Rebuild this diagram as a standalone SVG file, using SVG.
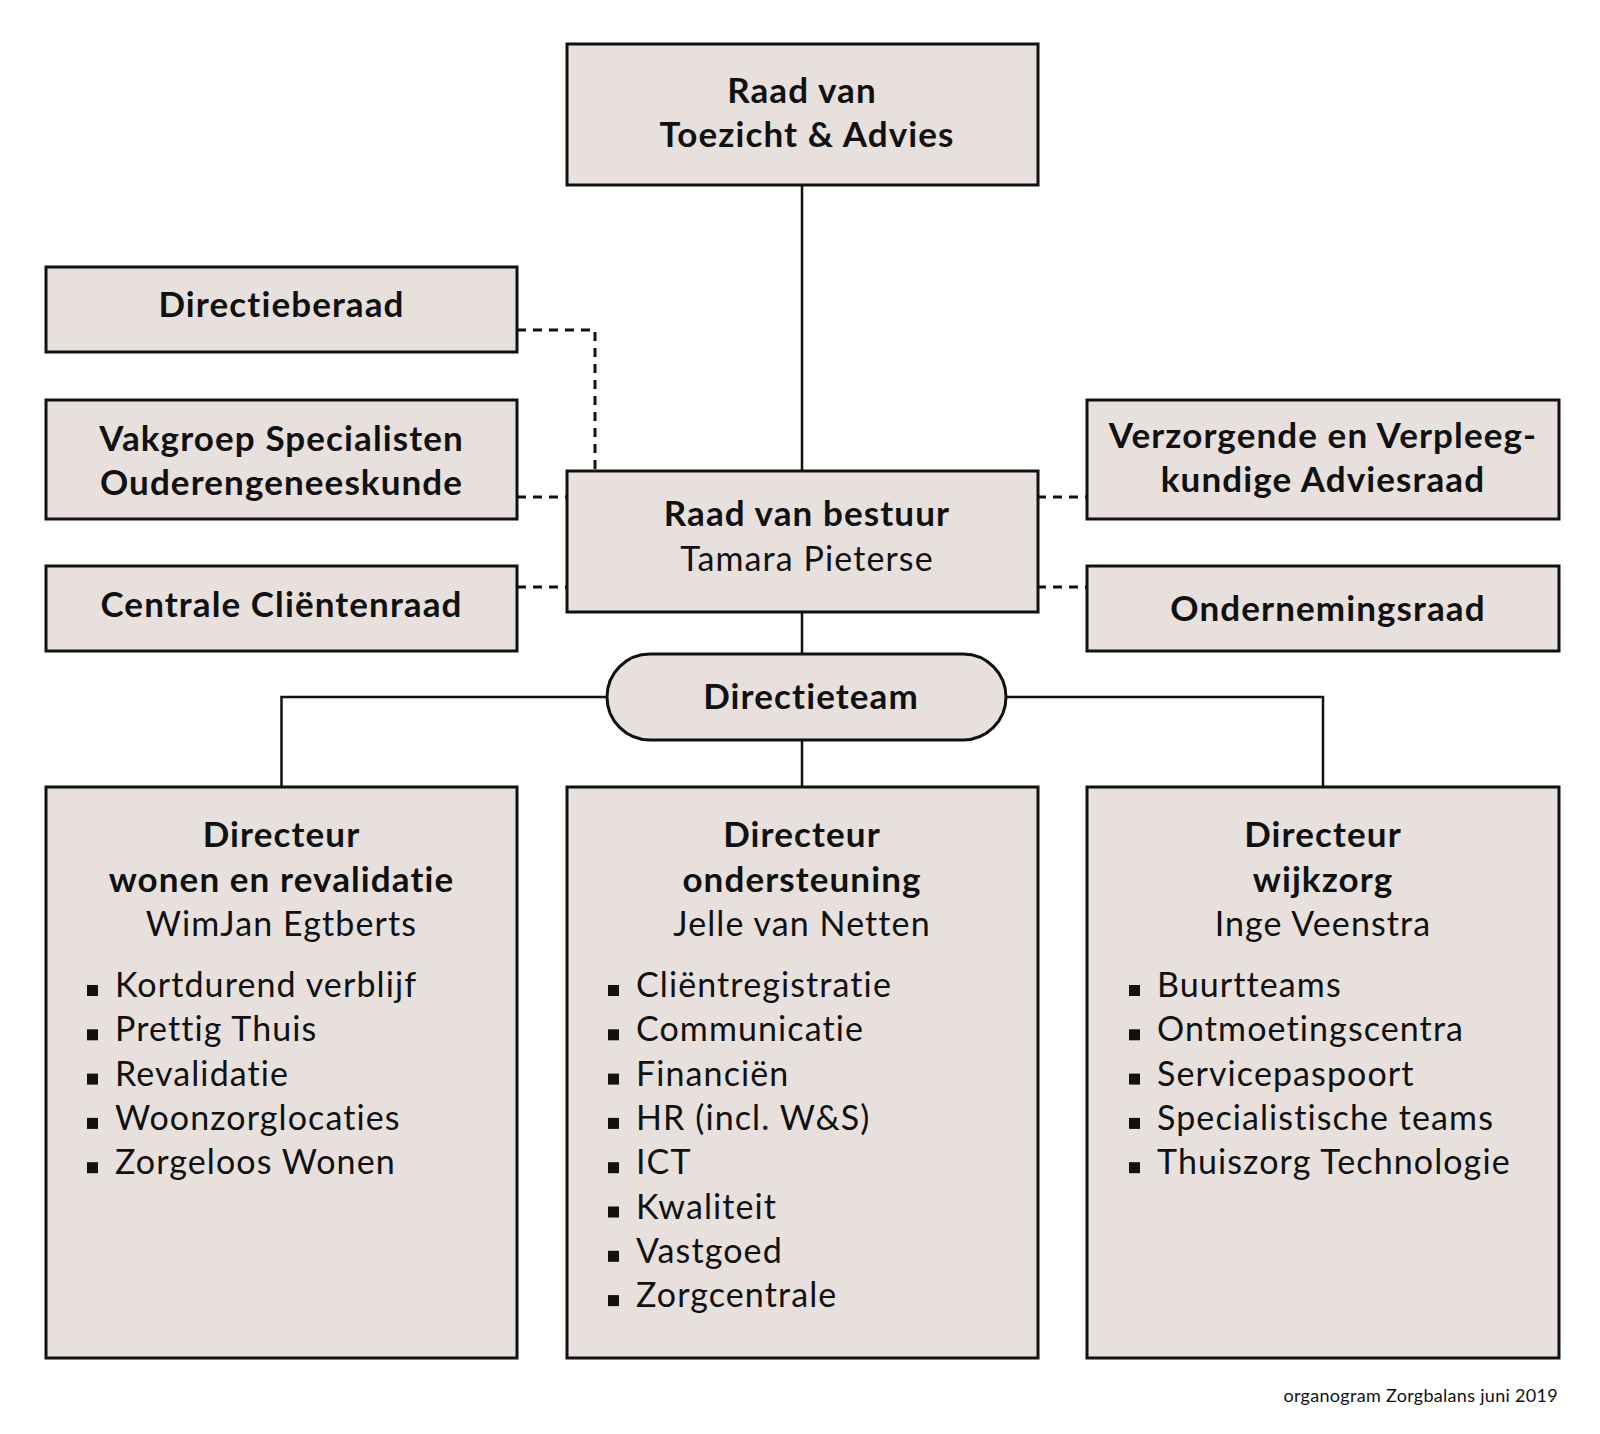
<svg xmlns="http://www.w3.org/2000/svg" width="1600" height="1434" viewBox="0 0 1600 1434">
<style>
.box{fill:#e7e0dd;stroke:#111;stroke-width:3}
.ln{fill:none;stroke:#111;stroke-width:2.5}
.dash{fill:none;stroke:#111;stroke-width:3;stroke-dasharray:9 7}
text{font-family:Lato,"Open Sans","Liberation Sans",sans-serif;fill:#111;font-size:34px;letter-spacing:1.1px}
.b{font-weight:bold;text-anchor:middle;font-size:35px}
.r{text-anchor:middle}
.foot{font-size:18px;text-anchor:end;letter-spacing:0.3px}
</style>
<defs>
<rect id="sq" width="11" height="11" fill="#111"/>
</defs>
<rect width="1600" height="1434" fill="#fff"/>
<g id="connectors">
<line class="ln" x1="802" y1="185" x2="802" y2="471"/>
<line class="ln" x1="802" y1="612" x2="802" y2="655"/>
<line class="ln" x1="802" y1="738" x2="802" y2="787"/>
<polyline class="ln" points="608,697 281.5,697 281.5,787"/>
<polyline class="ln" points="1006,697 1323,697 1323,787"/>
<polyline class="dash" points="517,330 595,330 595,471"/>
<line class="dash" x1="517" y1="497" x2="567" y2="497"/>
<line class="dash" x1="517" y1="587" x2="567" y2="587"/>
<line class="dash" x1="1037" y1="497" x2="1087" y2="497"/>
<line class="dash" x1="1037" y1="587" x2="1087" y2="587"/>
</g>
<g id="toezicht">
<rect class="box" x="567" y="44" width="471" height="141"/>
<text class="b" x="802" y="103">Raad van</text>
<text class="b" x="807" y="147">Toezicht &amp; Advies</text>
</g>
<g id="directieberaad">
<rect class="box" x="46" y="267" width="471" height="85"/>
<text class="b" x="281.5" y="317">Directieberaad</text>
</g>
<g id="vakgroep">
<rect class="box" x="46" y="400" width="471" height="119"/>
<text class="b" x="281.5" y="451">Vakgroep Specialisten</text>
<text class="b" x="281.5" y="495">Ouderengeneeskunde</text>
</g>
<g id="clientenraad">
<rect class="box" x="46" y="566" width="471" height="85"/>
<text class="b" x="281.5" y="617">Centrale Cliëntenraad</text>
</g>
<g id="rvb">
<rect class="box" x="567" y="471" width="471" height="141"/>
<text class="b" x="807" y="526">Raad van bestuur</text>
<text class="r" x="807" y="571">Tamara Pieterse</text>
</g>
<g id="vva">
<rect class="box" x="1087" y="400" width="472" height="119"/>
<text class="b" x="1323" y="448">Verzorgende en Verpleeg-</text>
<text class="b" x="1323" y="492">kundige Adviesraad</text>
</g>
<g id="or">
<rect class="box" x="1087" y="566" width="472" height="85"/>
<text class="b" x="1328" y="621">Ondernemingsraad</text>
</g>
<g id="directieteam">
<rect class="box" x="607" y="654" width="399" height="86" rx="43" ry="43"/>
<text class="b" x="811" y="709">Directieteam</text>
</g>
<g id="dir-wonen">
<rect class="box" x="46" y="787" width="471" height="571"/>
<text class="b" x="281.5" y="847">Directeur</text>
<text class="b" x="281.5" y="892">wonen en revalidatie</text>
<text class="r" x="281.5" y="936">WimJan Egtberts</text>
<use href="#sq" x="87" y="985"/><text x="115" y="997">Kortdurend verblijf</text>
<use href="#sq" x="87" y="1029.3"/><text x="115" y="1041.3">Prettig Thuis</text>
<use href="#sq" x="87" y="1073.6"/><text x="115" y="1085.6">Revalidatie</text>
<use href="#sq" x="87" y="1117.9"/><text x="115" y="1129.9">Woonzorglocaties</text>
<use href="#sq" x="87" y="1162.2"/><text x="115" y="1174.2">Zorgeloos Wonen</text>
</g>
<g id="dir-ondersteuning">
<rect class="box" x="567" y="787" width="471" height="571"/>
<text class="b" x="802" y="847">Directeur</text>
<text class="b" x="802" y="892">ondersteuning</text>
<text class="r" x="802" y="936">Jelle van Netten</text>
<use href="#sq" x="608" y="985"/><text x="636" y="997">Cliëntregistratie</text>
<use href="#sq" x="608" y="1029.3"/><text x="636" y="1041.3">Communicatie</text>
<use href="#sq" x="608" y="1073.6"/><text x="636" y="1085.6">Financiën</text>
<use href="#sq" x="608" y="1117.9"/><text x="636" y="1129.9">HR (incl. W&amp;S)</text>
<use href="#sq" x="608" y="1162.2"/><text x="636" y="1174.2">ICT</text>
<use href="#sq" x="608" y="1206.5"/><text x="636" y="1218.5">Kwaliteit</text>
<use href="#sq" x="608" y="1250.8"/><text x="636" y="1262.8">Vastgoed</text>
<use href="#sq" x="608" y="1295.1"/><text x="636" y="1307.1">Zorgcentrale</text>
</g>
<g id="dir-wijkzorg">
<rect class="box" x="1087" y="787" width="472" height="571"/>
<text class="b" x="1323" y="847">Directeur</text>
<text class="b" x="1323" y="892">wijkzorg</text>
<text class="r" x="1323" y="936">Inge Veenstra</text>
<use href="#sq" x="1129" y="985"/><text x="1157" y="997">Buurtteams</text>
<use href="#sq" x="1129" y="1029.3"/><text x="1157" y="1041.3">Ontmoetingscentra</text>
<use href="#sq" x="1129" y="1073.6"/><text x="1157" y="1085.6">Servicepaspoort</text>
<use href="#sq" x="1129" y="1117.9"/><text x="1157" y="1129.9">Specialistische teams</text>
<use href="#sq" x="1129" y="1162.2"/><text x="1157" y="1174.2">Thuiszorg Technologie</text>
</g>
<text class="foot" x="1558" y="1402">organogram Zorgbalans juni 2019</text>
</svg>
